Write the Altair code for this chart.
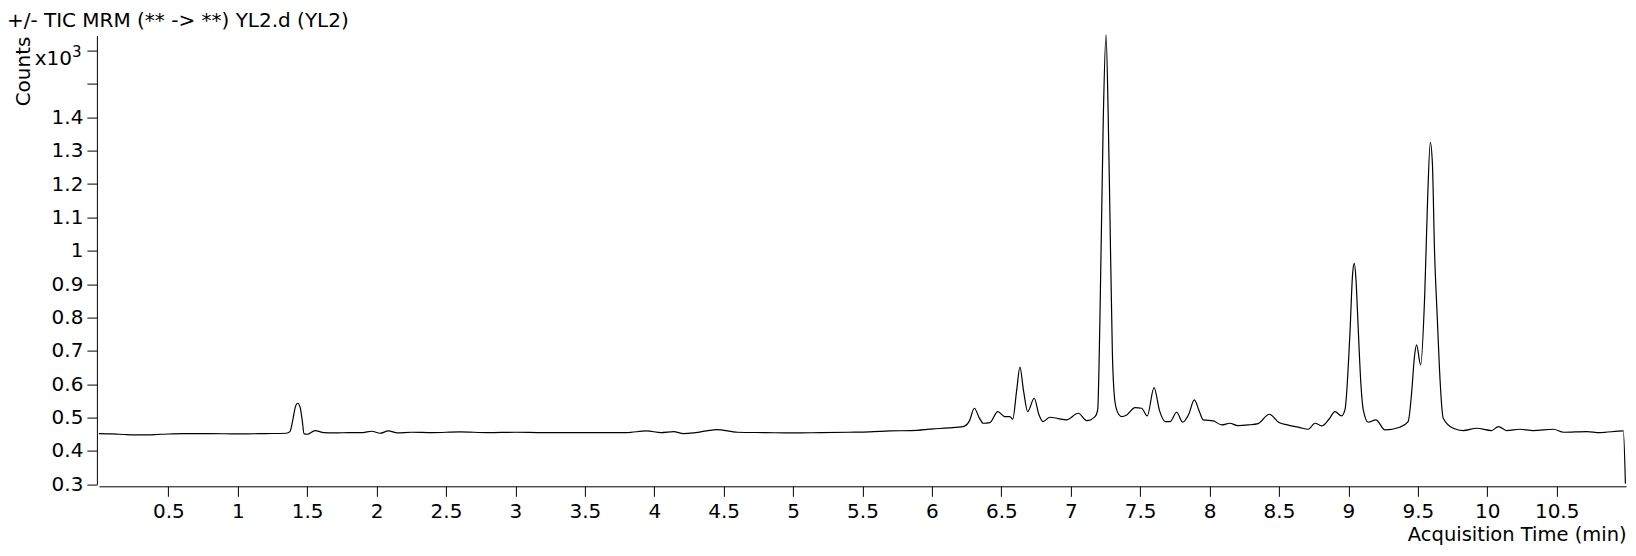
import altair as alt
import pandas as pd

# ---- data (x10^3 counts) ----
time_min = [
    0.0, 0.1, 0.2, 0.3, 0.45, 0.6, 0.8, 1.0, 1.2, 1.35, 1.376, 1.40, 1.415, 1.432, 1.45, 1.465, 1.477, 1.50,
    1.557, 1.62, 1.7, 1.8, 1.9, 1.965, 2.025, 2.085, 2.15, 2.25, 2.4, 2.6, 2.8, 3.0, 3.2, 3.4, 3.6, 3.8,
    3.945, 4.05, 4.14, 4.21, 4.3, 4.45, 4.6, 4.8, 5.0, 5.2, 5.4, 5.55, 5.7, 5.85, 6.01, 6.12, 6.226, 6.27,
    6.306, 6.34, 6.37, 6.418, 6.474, 6.526, 6.562, 6.582, 6.61, 6.634, 6.66, 6.69, 6.737, 6.77, 6.80, 6.85,
    6.91, 6.97, 7.054, 7.115, 7.175, 7.194, 7.21, 7.234, 7.254, 7.27, 7.283, 7.30, 7.32, 7.345, 7.367,
    7.403, 7.463, 7.51, 7.551, 7.60, 7.64, 7.68, 7.715, 7.763, 7.806, 7.85, 7.89, 7.925, 7.955, 8.027,
    8.087, 8.147, 8.2, 8.28, 8.35, 8.43, 8.5, 8.56, 8.65, 8.71, 8.76, 8.807, 8.86, 8.903, 8.95, 8.975,
    9.011, 9.03, 9.042, 9.055, 9.07, 9.09, 9.107, 9.143, 9.198, 9.263, 9.37, 9.43, 9.455, 9.475, 9.491,
    9.52, 9.55, 9.57, 9.59, 9.605, 9.62, 9.64, 9.655, 9.683, 9.755, 9.827, 9.924, 10.03, 10.08, 10.14,
    10.235, 10.33, 10.476, 10.55, 10.716, 10.81, 10.98, 10.995,
]
counts_k = [
    0.452, 0.451, 0.449, 0.448, 0.450, 0.452, 0.452, 0.451, 0.452, 0.453, 0.458, 0.500, 0.532, 0.543, 0.530, 0.490, 0.452, 0.450,
    0.461, 0.455, 0.454, 0.455, 0.455, 0.459, 0.453, 0.460, 0.454, 0.456, 0.455, 0.457, 0.455, 0.456, 0.455, 0.455, 0.455, 0.455,
    0.460, 0.455, 0.458, 0.452, 0.455, 0.464, 0.456, 0.455, 0.454, 0.455, 0.456, 0.457, 0.460, 0.461, 0.466, 0.469, 0.473, 0.490,
    0.528, 0.500, 0.483, 0.485, 0.518, 0.503, 0.503, 0.495, 0.580, 0.651, 0.580, 0.518, 0.558, 0.510, 0.488, 0.501,
    0.497, 0.493, 0.513, 0.491, 0.503, 0.523, 0.790, 1.390, 1.647, 1.400, 1.090, 0.690, 0.543, 0.510, 0.503,
    0.508, 0.530, 0.528, 0.505, 0.590, 0.520, 0.488, 0.488, 0.516, 0.486, 0.510, 0.553, 0.520, 0.493, 0.490,
    0.478, 0.483, 0.476, 0.478, 0.482, 0.510, 0.485, 0.478, 0.470, 0.465, 0.483, 0.475, 0.495, 0.518, 0.505, 0.523,
    0.753, 0.930, 0.962, 0.910, 0.772, 0.600, 0.523, 0.486, 0.493, 0.463, 0.471, 0.488, 0.573, 0.680, 0.718,
    0.658, 0.873, 1.150, 1.325, 1.260, 1.002, 0.800, 0.653, 0.498, 0.468, 0.461, 0.468, 0.461, 0.473, 0.461,
    0.465, 0.461, 0.465, 0.456, 0.458, 0.455, 0.460, 0.302,
]
y_ticks = [0.3, 0.4, 0.5, 0.6, 0.7, 0.8, 0.9, 1.0, 1.1, 1.2, 1.3, 1.4, 1.5, 1.6]
x_ticks = [0.5, 1, 1.5, 2, 2.5, 3, 3.5, 4, 4.5, 5, 5.5, 6, 6.5, 7, 7.5, 8, 8.5, 9, 9.5, 10, 10.5]
title_text = ["+/- TIC MRM (** -> **) YL2.d (YL2)"]
exp_base = ["x10"]
exp_power = ["3"]
x_title = "Acquisition Time (min)"
y_title = "Counts"

df = pd.DataFrame({"t": time_min, "c": counts_k})

FONT = "DejaVu Sans"
FS = 20
W = 1527.2
H = 448.7

line = alt.Chart(df).mark_line(color="#000000", strokeWidth=1.2, interpolate="monotone").encode(
    x=alt.X(
        "t:Q",
        scale=alt.Scale(domain=[0, 11], nice=False, zero=False),
        axis=alt.Axis(
            values=x_ticks,
            labelExpr="format(datum.value, '~g')",
            title=x_title,
            titleAnchor="end",
            titleAlign="right",
            titleX=W,
            titleY=54.5,
            titleBaseline="alphabetic",
            offset=2,
            tickSize=10,
            labelPadding=5,
            grid=False,
            domainColor="#000000",
            tickColor="#000000",
            labelColor="#000000",
            titleColor="#000000",
            labelFont=FONT,
            titleFont=FONT,
            labelFontSize=FS,
            titleFontSize=19.5,
            titleFontWeight="normal",
            labelFlush=False,
            labelOverlap=False,
        ),
    ),
    y=alt.Y(
        "c:Q",
        scale=alt.Scale(domain=[0.3, 1.645], nice=False, zero=False),
        axis=alt.Axis(
            values=y_ticks,
            labelExpr="datum.value > 1.45 ? '' : format(datum.value, '~g')",
            title=y_title,
            titleX=-67,
            titleY=35.4,
            titleAlign="center",
            titleBaseline="alphabetic",
            titleAngle=270,
            offset=2,
            tickSize=10,
            labelPadding=4,
            grid=False,
            domainColor="#000000",
            tickColor="#000000",
            labelColor="#000000",
            titleColor="#000000",
            labelFont=FONT,
            titleFont=FONT,
            labelFontSize=FS,
            titleFontSize=FS,
            titleFontWeight="normal",
            labelOverlap=False,
        ),
    ),
)

title = alt.Chart(pd.DataFrame({"label": title_text})).mark_text(
    align="left", baseline="alphabetic", font=FONT, fontSize=FS, color="#000000"
).encode(x=alt.value(-92), y=alt.value(-9), text="label:N")

exp1 = alt.Chart(pd.DataFrame({"label": exp_base})).mark_text(
    align="right", baseline="alphabetic", font=FONT, fontSize=FS, color="#000000"
).encode(x=alt.value(-27), y=alt.value(29.4), text="label:N")

exp2 = alt.Chart(pd.DataFrame({"label": exp_power})).mark_text(
    align="left", baseline="alphabetic", font=FONT, fontSize=15, color="#000000"
).encode(x=alt.value(-27), y=alt.value(21.4), text="label:N")

chart = alt.layer(line, title, exp1, exp2).properties(
    width=W,
    height=H,
    autosize=alt.AutoSizeParams(type="none"),
    padding={"left": 90.9, "top": 27.6, "right": 1, "bottom": 62},
    background="#ffffff",
).configure_view(stroke=None)

chart.save("out.html", embed_options={"renderer": "svg", "actions": False})
